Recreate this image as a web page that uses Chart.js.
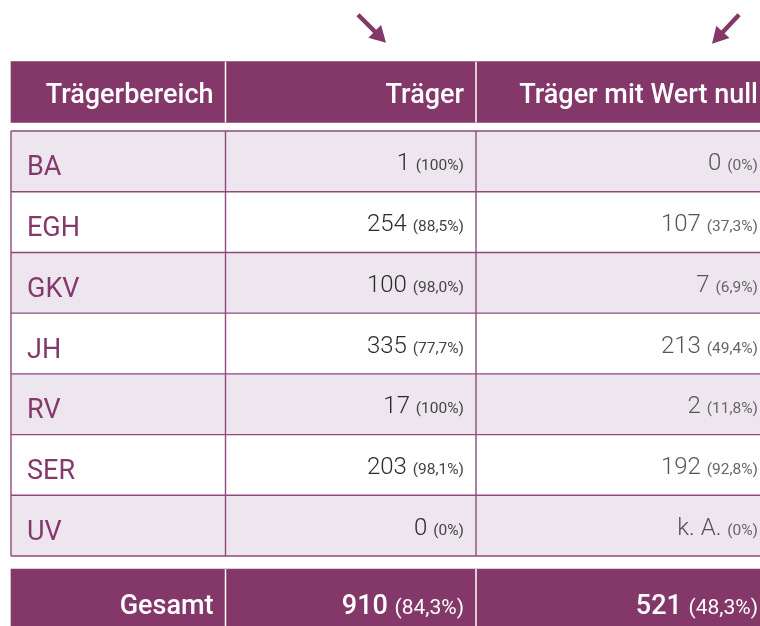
<!DOCTYPE html>
<html>
<head>
<meta charset="utf-8">
<script src="https://cdn.jsdelivr.net/npm/chart.js@4.4.1/dist/chart.umd.min.js"></script>
<style>
  html, body { margin: 0; padding: 0; background: #fff; }
  #wrap { width: 760px; height: 626px; position: relative; }
</style>
</head>
<body>
<div id="wrap"><canvas id="tableChart"></canvas></div>
<script>
// table data
const headers = ['Trägerbereich', 'Träger', 'Träger mit Wert null'];
const categories = ['BA', 'EGH', 'GKV', 'JH', 'RV', 'SER', 'UV'];
const traeger = [1, 254, 100, 335, 17, 203, 0];
const traegerPct = [100, 88.5, 98.0, 77.7, 100, 98.1, 0];
const nullWert = [0, 107, 7, 213, 2, 192, null]; // null = k. A.
const nullWertPct = [0, 37.3, 6.9, 49.4, 11.8, 92.8, 0];
const totalLabel = 'Gesamt';
const totals = [910, 521];
const totalsPct = [84.3, 48.3];

// layout
const COL_EDGES = [11, 225.5, 476, 771];
const HEADER_Y = -0.642;
const TOTAL_Y = 7.715;
const PURPLE = '#843769';
const LAVENDER = '#EEE6EF';
const GRID = '#8F4A7B';

const fmtPct = v => '(' + (v === 0 || v === 100 ? String(v) : v.toFixed(1).replace('.', ',')) + '%)';
const fmtNum = v => v === null ? 'k. A.' : String(v);

const rowYs = [HEADER_Y, ...categories.map((c, i) => i + 0.5), TOTAL_Y];

const datasets = [0, 1, 2].map(c => ({
    label: headers[c],
    data: rowYs.map(y => ({ x: [COL_EDGES[c], COL_EDGES[c + 1]], y: y })),
    backgroundColor: ctx => {
        const i = ctx.dataIndex;
        if (i === 0 || i === rowYs.length - 1) return PURPLE;
        return (i - 1) % 2 === 0 ? LAVENDER : '#ffffff';
    },
    borderWidth: 0
}));

function arrow(ctx, x0, y0, x1, y1) {
    const dx = x1 - x0, dy = y1 - y0;
    const len = Math.hypot(dx, dy);
    const ux = dx / len, uy = dy / len;
    const px = -uy, py = ux;
    const head = 16, hw = 9, sw = 2.2;
    const bx = x1 - ux * head, by = y1 - uy * head;
    ctx.beginPath();
    ctx.moveTo(x0 + px * sw, y0 + py * sw);
    ctx.lineTo(bx + px * sw, by + py * sw);
    ctx.lineTo(bx + px * hw, by + py * hw);
    ctx.lineTo(x1, y1);
    ctx.lineTo(bx - px * hw, by - py * hw);
    ctx.lineTo(bx - px * sw, by - py * sw);
    ctx.lineTo(x0 - px * sw, y0 - py * sw);
    ctx.closePath();
    ctx.fill();
}

const tablePlugin = {
    id: 'tableText',
    afterDatasetsDraw(chart) {
        const ctx = chart.ctx;
        const xs = chart.scales.x, ys = chart.scales.y;
        const X = v => xs.getPixelForValue(v);
        const Y = v => ys.getPixelForValue(v);
        ctx.save();

        // grid lines of body rows
        ctx.strokeStyle = GRID;
        ctx.lineWidth = 1.4;
        for (let r = 0; r <= categories.length; r++) {
            ctx.beginPath();
            ctx.moveTo(X(COL_EDGES[0]), Y(r));
            ctx.lineTo(X(COL_EDGES[3]), Y(r));
            ctx.stroke();
        }
        COL_EDGES.forEach(e => {
            ctx.beginPath();
            ctx.moveTo(X(e), Y(0));
            ctx.lineTo(X(e), Y(categories.length));
            ctx.stroke();
        });

        // white separators in header and total rows
        ctx.strokeStyle = '#ffffff';
        ctx.lineWidth = 1.5;
        [HEADER_Y, TOTAL_Y].forEach(yc => {
            [COL_EDGES[1], COL_EDGES[2]].forEach(e => {
                ctx.beginPath();
                ctx.moveTo(X(e), Y(yc - 0.5));
                ctx.lineTo(X(e), Y(yc + 0.5));
                ctx.stroke();
            });
        });

        const pad = 12;
        const right = c => X(COL_EDGES[c + 1]) - pad;

        // header
        ctx.fillStyle = '#ffffff';
        ctx.font = '500 27px Roboto';
        ctx.textAlign = 'right';
        ctx.textBaseline = 'alphabetic';
        headers.forEach((h, c) => ctx.fillText(h, right(c) + (c === 2 ? -1 : 0), Y(HEADER_Y) + 11));

        // body
        const drawPair = (num, pct, xr, yb, numFont, pctFont, numColor, pctColor) => {
            ctx.textAlign = 'right';
            ctx.font = pctFont;
            ctx.fillStyle = pctColor;
            ctx.fillText(pct, xr, yb);
            const pw = ctx.measureText(pct).width;
            ctx.font = numFont;
            ctx.fillStyle = numColor;
            ctx.fillText(num + ' ', xr - pw, yb);
        };
        categories.forEach((cat, i) => {
            const yc = Y(i + 0.5);
            ctx.textAlign = 'left';
            ctx.font = '400 27px Roboto';
            ctx.fillStyle = '#84386C';
            ctx.fillText(cat, X(COL_EDGES[0]) + 16, yc + 14);
            drawPair(fmtNum(traeger[i]), fmtPct(traegerPct[i]), right(1), yc + 9,
                '300 24px Roboto', '400 15.5px Roboto', '#2a2a2a', '#444444');
            drawPair(fmtNum(nullWert[i]), fmtPct(nullWertPct[i]), right(2) - 1, yc + 9,
                '300 24px Roboto', '400 15.5px Roboto', '#555555', '#666666');
        });

        // total row
        const yt = Y(TOTAL_Y) + 15;
        ctx.textAlign = 'right';
        ctx.font = '500 27px Roboto';
        ctx.fillStyle = '#ffffff';
        ctx.fillText(totalLabel, right(0), yt);
        totals.forEach((t, k) => {
            drawPair(fmtNum(t), fmtPct(totalsPct[k]), right(k + 1) - (k === 1 ? 1 : 0), yt,
                '500 27px Roboto', '400 21px Roboto', '#ffffff', '#ffffff');
        });

        // arrows above the value columns
        ctx.fillStyle = '#843769';
        const top = Y(HEADER_Y - 0.5);
        arrow(ctx, X(COL_EDGES[2] - 118), top - 47, X(COL_EDGES[2] - 90), top - 19);
        arrow(ctx, X(COL_EDGES[2] + 263), top - 47, X(COL_EDGES[2] + 236), top - 18);

        ctx.restore();
    }
};

new Chart(document.getElementById('tableChart'), {
    type: 'bar',
    data: { datasets: datasets },
    options: {
        indexAxis: 'y',
        responsive: true,
        maintainAspectRatio: false,
        animation: false,
        grouped: false,
        barPercentage: 1,
        categoryPercentage: 1,
        layout: { padding: 0 },
        plugins: { legend: { display: false }, tooltip: { enabled: false } },
        scales: {
            x: { type: 'linear', min: 0, max: 760, offset: false, display: false },
            y: {
                type: 'linear', reverse: true, bounds: 'data', offset: false,
                min: -2.158, max: 8.153, display: false,
                afterBuildTicks: scale => { scale.ticks = []; }
            }
        }
    },
    plugins: [tablePlugin]
});
</script>
</body>
</html>
